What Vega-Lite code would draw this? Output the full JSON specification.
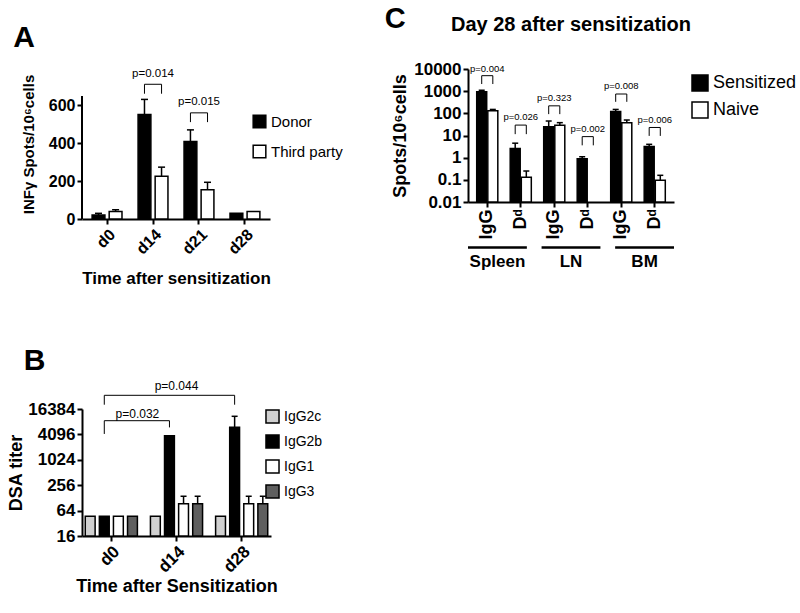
{
  "$schema": "https://vega.github.io/schema/vega-lite/v6.json",
  "padding": {"left": 7, "top": 5, "right": 5, "bottom": 5},
  "background": "white",
  "datasets": {
    "a": [
      {"day": "d0", "group": "Donor", "mean": 21, "upper": 30},
      {"day": "d0", "group": "Third party", "mean": 39, "upper": 49},
      {"day": "d14", "group": "Donor", "mean": 552, "upper": 632},
      {"day": "d14", "group": "Third party", "mean": 226, "upper": 274},
      {"day": "d21", "group": "Donor", "mean": 410, "upper": 471},
      {"day": "d21", "group": "Third party", "mean": 154, "upper": 194},
      {"day": "d28", "group": "Donor", "mean": 30, "upper": null},
      {"day": "d28", "group": "Third party", "mean": 39, "upper": null}
    ],
    "a_br": [
      {"id": "b1", "day": "d14", "group": "Donor", "y": 662, "k": 1},
      {"id": "b1", "day": "d14", "group": "Donor", "y": 712, "k": 2},
      {"id": "b1", "day": "d14", "group": "Third party", "y": 712, "k": 3},
      {"id": "b1", "day": "d14", "group": "Third party", "y": 662, "k": 4},
      {"id": "b2", "day": "d21", "group": "Donor", "y": 512, "k": 1},
      {"id": "b2", "day": "d21", "group": "Donor", "y": 561, "k": 2},
      {"id": "b2", "day": "d21", "group": "Third party", "y": 561, "k": 3},
      {"id": "b2", "day": "d21", "group": "Third party", "y": 512, "k": 4}
    ],
    "a_p": [
      {"day": "d14", "label": "p=0.014", "y": 765},
      {"day": "d21", "label": "p=0.015", "y": 618}
    ],
    "b": [
      {"day": "d0", "iso": "IgG2c", "mean": 47, "upper": null},
      {"day": "d0", "iso": "IgG2b", "mean": 47, "upper": null},
      {"day": "d0", "iso": "IgG1", "mean": 47, "upper": null},
      {"day": "d0", "iso": "IgG3", "mean": 47, "upper": null},
      {"day": "d14", "iso": "IgG2c", "mean": 47, "upper": null},
      {"day": "d14", "iso": "IgG2b", "mean": 3830, "upper": null},
      {"day": "d14", "iso": "IgG1", "mean": 93, "upper": 140},
      {"day": "d14", "iso": "IgG3", "mean": 93, "upper": 140},
      {"day": "d28", "iso": "IgG2c", "mean": 47, "upper": null},
      {"day": "d28", "iso": "IgG2b", "mean": 6040, "upper": 11000},
      {"day": "d28", "iso": "IgG1", "mean": 93, "upper": 140},
      {"day": "d28", "iso": "IgG3", "mean": 93, "upper": 140}
    ],
    "b_br": [
      {"id": "c1", "day": "d0", "iso": "IgG2b", "y": 20700, "k": 1},
      {"id": "c1", "day": "d0", "iso": "IgG2b", "y": 34600, "k": 2},
      {"id": "c1", "day": "d28", "iso": "IgG2b", "y": 34600, "k": 3},
      {"id": "c1", "day": "d28", "iso": "IgG2b", "y": 20700, "k": 4},
      {"id": "c2", "day": "d0", "iso": "IgG2b", "y": 4200, "k": 1},
      {"id": "c2", "day": "d0", "iso": "IgG2b", "y": 8650, "k": 2},
      {"id": "c2", "day": "d14", "iso": "IgG2b", "y": 8650, "k": 3},
      {"id": "c2", "day": "d14", "iso": "IgG2b", "y": 6000, "k": 4}
    ],
    "b_p": [
      {"day": "d0", "label": "p=0.032", "y": 12400},
      {"day": "d14", "label": "p=0.044", "y": 56000}
    ],
    "c": [
      {"cat": "Spleen|IgG", "cond": "Sensitized", "mean": 950, "upper": 1100},
      {"cat": "Spleen|IgG", "cond": "Naive", "mean": 130, "upper": 150},
      {"cat": "Spleen|Dd", "cond": "Sensitized", "mean": 2.6, "upper": 4.5},
      {"cat": "Spleen|Dd", "cond": "Naive", "mean": 0.13, "upper": 0.25},
      {"cat": "LN|IgG", "cond": "Sensitized", "mean": 25, "upper": 45},
      {"cat": "LN|IgG", "cond": "Naive", "mean": 29, "upper": 38},
      {"cat": "LN|Dd", "cond": "Sensitized", "mean": 0.9, "upper": 1.1},
      {"cat": "BM|IgG", "cond": "Sensitized", "mean": 120, "upper": 150},
      {"cat": "BM|IgG", "cond": "Naive", "mean": 38, "upper": 50},
      {"cat": "BM|Dd", "cond": "Sensitized", "mean": 3.2, "upper": 4},
      {"cat": "BM|Dd", "cond": "Naive", "mean": 0.095, "upper": 0.16}
    ],
    "c_br": [
      {"id": "s1", "cat": "Spleen|IgG", "cond": "Sensitized", "y": 2100, "k": 1},
      {"id": "s1", "cat": "Spleen|IgG", "cond": "Sensitized", "y": 5000, "k": 2},
      {"id": "s1", "cat": "Spleen|IgG", "cond": "Naive", "y": 5000, "k": 3},
      {"id": "s1", "cat": "Spleen|IgG", "cond": "Naive", "y": 2100, "k": 4},
      {"id": "s2", "cat": "Spleen|Dd", "cond": "Sensitized", "y": 11.5, "k": 1},
      {"id": "s2", "cat": "Spleen|Dd", "cond": "Sensitized", "y": 29.5, "k": 2},
      {"id": "s2", "cat": "Spleen|Dd", "cond": "Naive", "y": 29.5, "k": 3},
      {"id": "s2", "cat": "Spleen|Dd", "cond": "Naive", "y": 11.5, "k": 4},
      {"id": "l1", "cat": "LN|IgG", "cond": "Sensitized", "y": 92, "k": 1},
      {"id": "l1", "cat": "LN|IgG", "cond": "Sensitized", "y": 218, "k": 2},
      {"id": "l1", "cat": "LN|IgG", "cond": "Naive", "y": 218, "k": 3},
      {"id": "l1", "cat": "LN|IgG", "cond": "Naive", "y": 92, "k": 4},
      {"id": "l2", "cat": "LN|Dd", "cond": "Sensitized", "y": 3.6, "k": 1},
      {"id": "l2", "cat": "LN|Dd", "cond": "Sensitized", "y": 8.9, "k": 2},
      {"id": "l2", "cat": "LN|Dd", "cond": "Naive", "y": 8.9, "k": 3},
      {"id": "l2", "cat": "LN|Dd", "cond": "Naive", "y": 3.6, "k": 4},
      {"id": "m1", "cat": "BM|IgG", "cond": "Sensitized", "y": 330, "k": 1},
      {"id": "m1", "cat": "BM|IgG", "cond": "Sensitized", "y": 745, "k": 2},
      {"id": "m1", "cat": "BM|IgG", "cond": "Naive", "y": 745, "k": 3},
      {"id": "m1", "cat": "BM|IgG", "cond": "Naive", "y": 330, "k": 4},
      {"id": "m2", "cat": "BM|Dd", "cond": "Sensitized", "y": 9.6, "k": 1},
      {"id": "m2", "cat": "BM|Dd", "cond": "Sensitized", "y": 23, "k": 2},
      {"id": "m2", "cat": "BM|Dd", "cond": "Naive", "y": 23, "k": 3},
      {"id": "m2", "cat": "BM|Dd", "cond": "Naive", "y": 9.6, "k": 4}
    ],
    "c_p": [
      {"cat": "Spleen|IgG", "label": "p=0.004", "y": 10000},
      {"cat": "Spleen|Dd", "label": "p=0.026", "y": 65},
      {"cat": "LN|IgG", "label": "p=0.323", "y": 470},
      {"cat": "LN|Dd", "label": "p=0.002", "y": 19.5},
      {"cat": "BM|IgG", "label": "p=0.008", "y": 1770},
      {"cat": "BM|Dd", "label": "p=0.006", "y": 51}
    ],
    "c_grp": [
      {"tissue": "Spleen"},
      {"tissue": "LN"},
      {"tissue": "BM"}
    ]
  },
  "vconcat": [
    {
      "hconcat": [
        {
          "width": 188,
          "height": 150,
          "title": {"text": "A", "fontSize": 30, "anchor": "start", "frame": "bounds", "offset": 15, "dx": -8},
          "encoding": {
            "x": {
              "field": "day", "type": "nominal",
              "scale": {"domain": ["d0", "d14", "d21", "d28"], "paddingInner": 0.35, "paddingOuter": 0.22},
              "axis": {"title": "Time after sensitization", "labelAngle": -45, "labelFontSize": 16, "titleFontSize": 17, "titlePadding": 14}
            }
          },
          "layer": [
            {
              "data": {"name": "a"},
              "mark": {"type": "bar", "stroke": "black", "strokeWidth": 1.5},
              "encoding": {
                "xOffset": {"field": "group", "type": "nominal", "scale": {"domain": ["Donor", "Third party"], "paddingInner": 0.25}},
                "y": {"field": "mean", "type": "quantitative", "title": "INFγ Spots/10⁶cells", "stack": null,
                  "scale": {"domain": [0, 792.7], "nice": false},
                  "axis": {"values": [0, 100, 200, 300, 400, 500, 600], "domain": false, "labelFontSize": 16, "titleFontSize": 15, "titlePadding": 12}},
                "fill": {"field": "group", "type": "nominal",
                  "scale": {"domain": ["Donor", "Third party"], "range": ["black", "white"]},
                  "legend": {"title": null, "orient": "none", "legendX": 170, "legendY": 45, "symbolSize": 160, "labelFontSize": 15, "rowPadding": 11, "symbolStrokeColor": "black", "symbolStrokeWidth": 1.5}}
              }
            },
            {
              "data": {"values": [{}]},
              "mark": {"type": "rule", "strokeWidth": 2, "color": "black"},
              "encoding": {
                "x": {"datum": "d0", "bandPosition": -0.3384},
                "y": {"datum": 0, "type": "quantitative", "title": "INFγ Spots/10⁶cells"},
                "y2": {"datum": 650}
              }
            },
            {
              "data": {"name": "a"},
              "transform": [{"filter": "isValid(datum.upper)"}],
              "mark": {"type": "rule", "strokeWidth": 1.5, "color": "black"},
              "encoding": {
                "xOffset": {"field": "group", "type": "nominal"},
                "y": {"field": "mean", "type": "quantitative", "title": "INFγ Spots/10⁶cells"},
                "y2": {"field": "upper"}
              }
            },
            {
              "data": {"name": "a"},
              "transform": [{"filter": "isValid(datum.upper)"}],
              "mark": {"type": "tick", "thickness": 1.5, "size": 7, "color": "black", "opacity": 1},
              "encoding": {
                "xOffset": {"field": "group", "type": "nominal"},
                "y": {"field": "upper", "type": "quantitative", "title": "INFγ Spots/10⁶cells"}
              }
            },
            {
              "data": {"name": "a_br"},
              "mark": {"type": "line", "strokeWidth": 1, "color": "black"},
              "encoding": {
                "xOffset": {"field": "group", "type": "nominal"},
                "y": {"field": "y", "type": "quantitative", "title": "INFγ Spots/10⁶cells"},
                "order": {"field": "k"},
                "detail": {"field": "id"}
              }
            },
            {
              "data": {"name": "a_p"},
              "mark": {"type": "text", "fontSize": 11.5, "color": "black"},
              "encoding": {
                "y": {"field": "y", "type": "quantitative", "title": "INFγ Spots/10⁶cells"},
                "text": {"field": "label"}
              }
            }
          ]
        },
        {
          "title": {"text": "C", "fontSize": 29, "anchor": "start", "frame": "bounds", "offset": -19, "dx": -7},
          "vconcat": [
            {
              "width": 206,
              "height": 133,
              "title": {"text": "Day 28 after sensitization", "fontSize": 20, "anchor": "middle", "frame": "group", "offset": 25},
              "layer": [
                {
                  "encoding": {
                    "x": {
                      "field": "cat", "type": "nominal",
                      "scale": {"domain": ["Spleen|IgG", "Spleen|Dd", "LN|IgG", "LN|Dd", "BM|IgG", "BM|Dd"], "paddingInner": 0.37, "paddingOuter": 0.26},
                      "axis": {"title": null, "labelAngle": -90, "labelFontSize": 18, "labelExpr": "indexof(datum.value, 'Dd') >= 0 ? 'Dᵈ' : 'IgG'"}
                    }
                  },
                  "layer": [
                    {
                      "data": {"name": "c"},
                      "mark": {"type": "bar", "stroke": "black", "strokeWidth": 1.5},
                      "encoding": {
                        "xOffset": {"field": "cond", "type": "nominal", "scale": {"domain": ["Sensitized", "Naive"], "paddingInner": 0.1}},
                        "y": {"field": "mean", "type": "quantitative", "title": "Spots/10⁶cells", "stack": null,
                          "scale": {"type": "log", "domain": [0.01, 10000], "nice": false},
                          "axis": {"values": [0.01, 0.1, 1, 10, 100, 1000, 10000], "format": "~g", "labelFontSize": 17, "titleFontSize": 18}},
                        "y2": {"datum": 0.01},
                        "fill": {"field": "cond", "type": "nominal",
                          "scale": {"domain": ["Sensitized", "Naive"], "range": ["black", "white"]},
                          "legend": {"title": null, "orient": "right", "offset": -6, "padding": 5, "symbolSize": 256, "labelFontSize": 18, "rowPadding": 5, "symbolStrokeColor": "black", "symbolStrokeWidth": 1.5}}
                      }
                    },
                    {
                      "data": {"name": "c"},
                      "mark": {"type": "rule", "strokeWidth": 1.5, "color": "black"},
                      "encoding": {
                        "xOffset": {"field": "cond", "type": "nominal"},
                        "y": {"field": "mean", "type": "quantitative", "title": "Spots/10⁶cells"},
                        "y2": {"field": "upper"}
                      }
                    },
                    {
                      "data": {"name": "c"},
                      "mark": {"type": "tick", "thickness": 1.5, "size": 6, "color": "black", "opacity": 1},
                      "encoding": {
                        "xOffset": {"field": "cond", "type": "nominal"},
                        "y": {"field": "upper", "type": "quantitative", "title": "Spots/10⁶cells"}
                      }
                    },
                    {
                      "data": {"name": "c_br"},
                      "mark": {"type": "line", "strokeWidth": 1, "color": "black"},
                      "encoding": {
                        "xOffset": {"field": "cond", "type": "nominal"},
                        "y": {"field": "y", "type": "quantitative", "title": "Spots/10⁶cells"},
                        "order": {"field": "k"},
                        "detail": {"field": "id"}
                      }
                    },
                    {
                      "data": {"name": "c_p"},
                      "mark": {"type": "text", "fontSize": 9.5, "color": "black"},
                      "encoding": {
                        "y": {"field": "y", "type": "quantitative", "title": "Spots/10⁶cells"},
                        "text": {"field": "label"}
                      }
                    }
                  ]
                },
                {
                  "data": {"name": "c_grp"},
                  "encoding": {
                    "x": {"field": "tissue", "type": "nominal", "scale": {"domain": ["Spleen", "LN", "BM"], "paddingInner": 0.2, "paddingOuter": 0}, "axis": null}
                  },
                  "layer": [
                    {
                      "mark": {"type": "bar", "color": "black"},
                      "encoding": {
                        "y": {"datum": 0.0001, "type": "quantitative"},
                        "y2": {"datum": 0.000078}
                      }
                    },
                    {
                      "mark": {"type": "text", "fontSize": 17, "fontWeight": "bold", "color": "black", "baseline": "middle"},
                      "encoding": {
                        "y": {"datum": 0.0000195, "type": "quantitative"},
                        "text": {"field": "tissue"}
                      }
                    }
                  ]
                }
              ],
              "resolve": {"scale": {"x": "independent"}}
            }
          ]
        }
      ],
      "spacing": 41,
      "resolve": {"scale": {"fill": "independent", "xOffset": "independent", "x": "independent", "y": "independent"}, "legend": {"fill": "independent"}}
    },
    {
      "width": 189,
      "height": 127,
      "title": {"text": "B", "fontSize": 30, "anchor": "start", "frame": "bounds", "offset": 4, "dx": 16},
      "encoding": {
        "x": {
          "field": "day", "type": "nominal",
          "scale": {"domain": ["d0", "d14", "d28"], "paddingInner": 0.2, "paddingOuter": 0.05},
          "axis": {"title": "Time after Sensitization", "labelAngle": -45, "labelFontSize": 17, "titleFontSize": 18, "titlePadding": 2}
        }
      },
      "layer": [
        {
          "data": {"name": "b"},
          "mark": {"type": "bar", "stroke": "black", "strokeWidth": 1.5},
          "encoding": {
            "xOffset": {"field": "iso", "type": "nominal", "scale": {"domain": ["IgG2c", "IgG2b", "IgG1", "IgG3"], "paddingInner": 0.3}},
            "y": {"field": "mean", "type": "quantitative", "title": "DSA titer", "stack": null,
              "scale": {"type": "log", "base": 2, "domain": [16, 16384], "nice": false},
              "axis": {"values": [16, 64, 256, 1024, 4096, 16384], "format": "d", "labelFontSize": 17, "titleFontSize": 18, "titlePadding": 2}},
            "y2": {"datum": 16},
            "fill": {"field": "iso", "type": "nominal",
              "scale": {"domain": ["IgG2c", "IgG2b", "IgG1", "IgG3"], "range": ["#d0d0d0", "black", "white", "#5f5f5f"]},
              "legend": {"title": null, "orient": "right", "offset": -6, "symbolSize": 170, "labelFontSize": 14, "rowPadding": 4, "symbolStrokeColor": "black", "symbolStrokeWidth": 1.5}}
          }
        },
        {
          "data": {"name": "b"},
          "transform": [{"filter": "isValid(datum.upper)"}],
          "mark": {"type": "rule", "strokeWidth": 1.5, "color": "black"},
          "encoding": {
            "xOffset": {"field": "iso", "type": "nominal"},
            "y": {"field": "mean", "type": "quantitative", "title": "DSA titer"},
            "y2": {"field": "upper"}
          }
        },
        {
          "data": {"name": "b"},
          "transform": [{"filter": "isValid(datum.upper)"}],
          "mark": {"type": "tick", "thickness": 1.5, "size": 6, "color": "black", "opacity": 1},
          "encoding": {
            "xOffset": {"field": "iso", "type": "nominal"},
            "y": {"field": "upper", "type": "quantitative", "title": "DSA titer"}
          }
        },
        {
          "data": {"name": "b_br"},
          "mark": {"type": "line", "strokeWidth": 1, "color": "black"},
          "encoding": {
            "xOffset": {"field": "iso", "type": "nominal"},
            "y": {"field": "y", "type": "quantitative", "title": "DSA titer"},
            "order": {"field": "k"},
            "detail": {"field": "id"}
          }
        },
        {
          "data": {"name": "b_p"},
          "transform": [{"filter": "datum.label == 'p=0.032'"}],
          "mark": {"type": "text", "fontSize": 12, "color": "black"},
          "encoding": {
            "x": {"field": "day", "type": "nominal", "bandPosition": 1},
            "y": {"field": "y", "type": "quantitative", "title": "DSA titer"},
            "text": {"field": "label"}
          }
        },
        {
          "data": {"name": "b_p"},
          "transform": [{"filter": "datum.label == 'p=0.044'"}],
          "mark": {"type": "text", "fontSize": 12, "color": "black"},
          "encoding": {
            "y": {"field": "y", "type": "quantitative", "title": "DSA titer"},
            "text": {"field": "label"}
          }
        }
      ]
    }
  ],
  "spacing": 59,
  "align": "none",
  "resolve": {"scale": {"fill": "independent", "xOffset": "independent", "x": "independent", "y": "independent"}, "legend": {"fill": "independent"}},
  "config": {
    "font": "Liberation Sans",
    "view": {"stroke": null},
    "axis": {
      "domainColor": "black", "domainWidth": 2, "tickColor": "black", "tickWidth": 2, "tickSize": 5,
      "grid": false, "labelFont": "Liberation Sans", "labelFontWeight": "bold", "labelColor": "black",
      "titleFont": "Liberation Sans", "titleFontWeight": "bold", "titleColor": "black"
    },
    "legend": {"labelFont": "Liberation Sans", "labelColor": "black", "symbolType": "square"},
    "title": {"font": "Liberation Sans", "fontWeight": "bold", "color": "black"},
    "text": {"font": "Liberation Sans"}
  }
}
